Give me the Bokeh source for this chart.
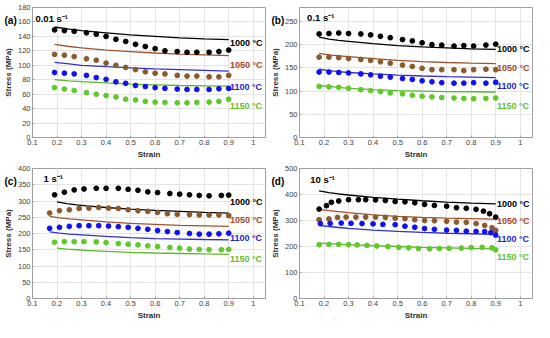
from bokeh.plotting import figure
from bokeh.models import Label, FixedTicker, Range1d, Title
from bokeh.layouts import gridplot
from bokeh.embed import file_html
from bokeh.resources import INLINE

# ---------------- data ----------------
TEMPS = ["1000 °C", "1050 °C", "1100 °C", "1150 °C"]
X_TICKS = [0.1, 0.2, 0.3, 0.4, 0.5, 0.6, 0.7, 0.8, 0.9, 1.0]

# (a) 0.01 s-1
A_DOT_X = [0.19, 0.23, 0.27, 0.32, 0.36, 0.40, 0.44, 0.48, 0.52, 0.56, 0.60, 0.64, 0.69, 0.73, 0.77, 0.82, 0.86, 0.90]
A_DOT_1000 = [149, 148, 147, 145, 143, 140, 136, 133, 129, 126, 123, 120, 119, 118, 118, 118, 119, 121]
A_DOT_1050 = [115, 114, 112, 109, 107, 103, 100, 97, 94, 91, 89, 88, 86, 85, 85, 84, 84, 86]
A_DOT_1100 = [90, 89, 88, 86, 83, 80.5, 77, 75, 72, 70.5, 69, 68, 67, 66.5, 66.5, 66.5, 67.5, 68]
A_DOT_1150 = [69, 67, 65, 62, 60, 58, 56, 53, 52, 50, 49, 48.5, 48, 48, 48.5, 49, 50, 53]
A_LINE_X = [0.19, 0.25, 0.30, 0.40, 0.50, 0.60, 0.70, 0.80, 0.90]
A_LINE_1000 = [153, 150, 148, 145, 142, 140, 138, 136.5, 135.5]
A_LINE_1050 = [129, 126, 124, 121, 119, 117, 115.5, 114.5, 113.5]
A_LINE_1100 = [104, 102, 100, 98, 96.5, 95, 94, 93, 92]
A_LINE_1150 = [80, 78.5, 77.5, 75.5, 74, 73, 72, 71.5, 71]

# (b) 0.1 s-1
B_DOT_X = [0.18, 0.22, 0.26, 0.30, 0.35, 0.39, 0.43, 0.47, 0.52, 0.56, 0.60, 0.64, 0.68, 0.73, 0.77, 0.81, 0.86, 0.90]
B_DOT_1000 = [223, 224, 225, 224, 223, 221, 218, 215, 211, 208, 204, 200, 199, 197, 198, 197, 199, 201]
B_DOT_1050 = [173, 173, 172, 170, 168, 166, 163, 160, 156, 153, 149, 146, 146, 146, 144, 146, 147, 146]
B_DOT_1100 = [141, 141, 140, 139, 137, 135, 132, 130, 127, 125, 122, 120, 118, 117, 117, 118, 117, 119]
B_DOT_1150 = [110, 109, 108, 106, 103, 101, 99, 96, 94, 91, 89, 87.5, 86, 85, 84, 83.5, 84, 85]
B_LINE_X = [0.18, 0.22, 0.26, 0.30, 0.40, 0.50, 0.60, 0.70, 0.80, 0.90]
B_LINE_1000 = [216, 212, 209, 207, 202, 198, 195, 193, 191, 190]
B_LINE_1050 = [181, 178, 176, 174, 170, 166, 163.5, 161.5, 160, 159]
B_LINE_1100 = [147, 144, 142, 140, 137, 134.5, 132.5, 131, 130, 129]
B_LINE_1150 = [112, 110, 108, 106, 103, 101, 100, 99, 98.5, 98]

# (c) 1 s-1
C_DOT_X18 = [0.19, 0.23, 0.27, 0.31, 0.36, 0.40, 0.45, 0.49, 0.53, 0.57, 0.61, 0.66, 0.70, 0.74, 0.78, 0.82, 0.87, 0.90]
C_DOT_X19 = [0.17, 0.21, 0.25, 0.29, 0.33, 0.37, 0.41, 0.45, 0.49, 0.53, 0.57, 0.61, 0.65, 0.69, 0.74, 0.78, 0.82, 0.86, 0.90]
C_DOT_1000 = [319, 327, 334, 337, 339, 339, 339, 336, 333, 328, 326, 323, 321, 319, 317, 316, 317, 318]
C_DOT_1050 = [263, 270, 273, 277, 278, 280, 278, 277, 273, 270, 268, 265, 261, 259, 258, 257, 257, 257, 255]
C_DOT_1100 = [216, 219, 222, 224, 224, 224, 223, 221, 219, 216, 213, 209, 206, 203, 200, 198, 198, 199, 201]
C_DOT_1150 = [173, 175, 175, 175, 174, 172, 169, 167, 165, 162, 160, 157, 155, 152, 151, 150, 150, 151]
C_LINE_XA = [0.20, 0.24, 0.28, 0.32, 0.40, 0.50, 0.60, 0.70, 0.80, 0.90]
C_LINE_XB = [0.17, 0.21, 0.25, 0.30, 0.40, 0.50, 0.60, 0.70, 0.80, 0.90]
C_LINE_1000 = [297, 292, 288, 285, 280, 275, 271, 268, 265, 263]
C_LINE_1050 = [253, 248, 245, 242, 236, 231, 228, 225, 223.5, 222]
C_LINE_1100 = [205, 201, 198, 196, 191, 187, 184.5, 183, 181.5, 180.5]
C_LINE_1150 = [155, 152, 150, 148, 145, 142, 140, 138.5, 137, 136]

# (d) 10 s-1
D_DOT_X_1000 = [0.18, 0.21, 0.23, 0.26, 0.30, 0.34, 0.37, 0.41, 0.45, 0.49, 0.53, 0.57, 0.61, 0.65, 0.70, 0.74, 0.78, 0.82, 0.85, 0.875, 0.90]
D_DOT_1000 = [344, 357, 370, 375, 380, 380, 380, 379, 377, 373, 372, 368, 362, 358, 355, 349, 347, 343, 336, 326, 313]
D_DOT_X_1050 = [0.18, 0.22, 0.255, 0.29, 0.33, 0.37, 0.41, 0.45, 0.49, 0.53, 0.57, 0.61, 0.65, 0.70, 0.74, 0.78, 0.82, 0.855, 0.885, 0.90]
D_DOT_1050 = [303, 306, 312, 313, 313, 313, 313, 312, 309, 307, 303, 300, 299, 297, 294, 293, 288, 281, 272, 262]
D_DOT_X_1100 = [0.185, 0.225, 0.27, 0.31, 0.355, 0.40, 0.44, 0.49, 0.53, 0.57, 0.61, 0.65, 0.70, 0.74, 0.78, 0.82, 0.855, 0.88, 0.90]
D_DOT_1100 = [288, 289, 290, 289, 288, 287, 285, 284, 278, 274, 269, 266, 263, 262, 259, 258, 257, 253, 244]
D_DOT_X_1150 = [0.18, 0.22, 0.26, 0.30, 0.335, 0.375, 0.415, 0.46, 0.505, 0.545, 0.585, 0.63, 0.67, 0.71, 0.76, 0.80, 0.845, 0.885, 0.90]
D_DOT_1150 = [207, 208, 208, 207, 206, 204, 202, 200, 197, 195, 192, 191, 192, 193, 194, 196, 197, 195, 187]
D_LINE_X = [0.18, 0.22, 0.26, 0.30, 0.40, 0.50, 0.60, 0.70, 0.80, 0.90]
D_LINE_1000 = [414, 407, 402, 398, 389, 382, 376, 371, 367, 364]
D_LINE_1050 = [343, 338, 334, 330, 322, 316, 312, 309, 307, 305]
D_LINE_1100 = [281, 277, 273, 270, 263, 258, 254, 251, 249, 247]
D_LINE_1150 = [213, 211, 209, 207, 203, 200, 197, 195, 193, 191]

# ---------------- style ----------------
FONT = "Liberation Sans"
DOT_COLORS = ["#000000", "#8B5A2B", "#1010F0", "#5FC82A"]
LINE_COLORS = ["#000000", "#A0522D", "#3030D0", "#5DB82A"]
LABEL_COLORS = ["#000000", "#A8462A", "#1E1EC8", "#62BE30"]

W, H = 267, 161


def panel(tag, rate, ymax, yticks, dots, lines, label_y):
    p = figure(width=W, height=H, output_backend="svg", toolbar_location=None,
               x_range=Range1d(0.1, 1.05), y_range=Range1d(0, ymax),
               min_border_left=28, min_border_right=2, min_border_top=7, min_border_bottom=4)
    p.outline_line_color = "#a0a0a0"
    p.outline_line_width = 1
    p.background_fill_color = "white"
    p.border_fill_color = "white"
    p.xgrid.grid_line_color = "#e4e4e4"
    p.ygrid.grid_line_color = "#e4e4e4"
    p.xaxis.ticker = FixedTicker(ticks=X_TICKS)
    p.xaxis.major_label_overrides = {1: "1"}
    p.yaxis.ticker = FixedTicker(ticks=yticks)
    for ax in (p.xaxis[0], p.yaxis[0]):
        ax.axis_line_color = "#a0a0a0"
        ax.major_tick_line_color = "#a0a0a0"
        ax.major_tick_in = 2
        ax.major_tick_out = 0
        ax.minor_tick_line_color = None
        ax.major_label_text_font = FONT
        ax.major_label_text_font_size = "7.5px"
        ax.major_label_text_color = "#404040"
        ax.major_label_standoff = 2
        ax.axis_label_text_font = FONT
        ax.axis_label_text_font_size = "8px"
        ax.axis_label_text_font_style = "bold"
        ax.axis_label_text_color = "#303030"
        ax.axis_label_standoff = 2
    p.xaxis.axis_label = "Strain"
    p.yaxis.axis_label = "Stress (MPa)"

    for i in range(4):
        lx, ly = lines[i]
        p.line(lx, ly, line_color=LINE_COLORS[i], line_width=1.3)
    for i in range(4):
        dx, dy = dots[i]
        p.scatter(dx, dy, size=4.8, marker="circle", fill_color=DOT_COLORS[i],
                  line_color=DOT_COLORS[i])
    for i in range(4):
        p.add_layout(Label(x=0.905, y=label_y[i], text=TEMPS[i], text_font=FONT,
                           text_font_size="9px", text_font_style="bold",
                           text_color=LABEL_COLORS[i], text_baseline="middle"))
    p.add_layout(Label(x=rate[0], y=rate[1], text=rate[2], text_font=FONT,
                       text_font_size="9.5px", text_font_style="bold",
                       text_color="#000000", text_baseline="middle"))
    p.add_layout(Title(text=tag, align="left", offset=-28, standoff=-37,
                       text_font=FONT, text_font_size="10px", text_font_style="bold",
                       text_color="#000000"), "above")
    return p


pa = panel("(a)", (0.112, 165, "0.01 s⁻¹"), 180, list(range(0, 181, 20)),
           [(A_DOT_X, A_DOT_1000), (A_DOT_X, A_DOT_1050), (A_DOT_X, A_DOT_1100), (A_DOT_X, A_DOT_1150)],
           [(A_LINE_X, A_LINE_1000), (A_LINE_X, A_LINE_1050), (A_LINE_X, A_LINE_1100), (A_LINE_X, A_LINE_1150)],
           [131, 100, 70, 43])
pb = panel("(b)", (0.131, 258, "0.1 s⁻¹"), 280, list(range(0, 251, 50)),
           [(B_DOT_X, B_DOT_1000), (B_DOT_X, B_DOT_1050), (B_DOT_X, B_DOT_1100), (B_DOT_X, B_DOT_1150)],
           [(B_LINE_X, B_LINE_1000), (B_LINE_X, B_LINE_1050), (B_LINE_X, B_LINE_1100), (B_LINE_X, B_LINE_1150)],
           [190, 150, 110, 68])
pc = panel("(c)", (0.145, 368, "1 s⁻¹"), 400, list(range(0, 401, 50)),
           [(C_DOT_X18, C_DOT_1000), (C_DOT_X19, C_DOT_1050), (C_DOT_X19, C_DOT_1100), (C_DOT_X18, C_DOT_1150)],
           [(C_LINE_XA, C_LINE_1000), (C_LINE_XB, C_LINE_1050), (C_LINE_XB, C_LINE_1100), (C_LINE_XA, C_LINE_1150)],
           [298, 241, 185, 122])
pd_ = panel("(d)", (0.144, 456, "10 s⁻¹"), 500, list(range(0, 501, 100)),
            [(D_DOT_X_1000, D_DOT_1000), (D_DOT_X_1050, D_DOT_1050), (D_DOT_X_1100, D_DOT_1100), (D_DOT_X_1150, D_DOT_1150)],
            [(D_LINE_X, D_LINE_1000), (D_LINE_X, D_LINE_1050), (D_LINE_X, D_LINE_1100), (D_LINE_X, D_LINE_1150)],
            [365, 297, 228, 160])

grid = gridplot([[pa, pb], [pc, pd_]], toolbar_location=None)

open("out.html", "w").write(file_html(grid, INLINE))
